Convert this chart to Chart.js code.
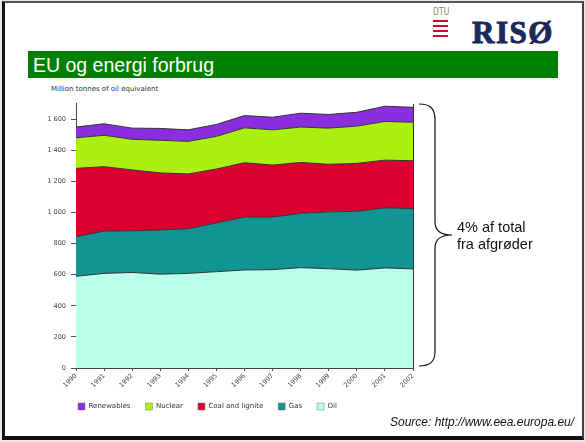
<!DOCTYPE html>
<html>
<head>
<meta charset="utf-8">
<script src="https://cdn.jsdelivr.net/npm/chart.js@4"></script>
<style>
  html, body { margin: 0; padding: 0; background: #e8e8e8; }
  body { width: 585px; height: 442px; position: relative; overflow: hidden; font-family: "Liberation Sans", Arial, sans-serif; }
  .slide { position: absolute; left: 2px; top: 1px; width: 577px; height: 433px; background: #fff;
           border-top: 2px solid #555; border-left: 3px solid #111; border-right: 2px solid #444; border-bottom: 4px solid #111; }
  .bar { position: absolute; left: 28px; top: 51px; width: 530px; height: 27px; background: #008000; }
  .bar span { position: absolute; left: 5px; top: 3px; color: #fff; font-size: 19.5px; line-height: 22px; }
  .dtu { position: absolute; left: 433px; top: 5px; color: #888; font: 11px "DejaVu Sans"; transform: scaleX(0.7); transform-origin: left top; }
  .dtu-bar { position: absolute; left: 433px; width: 15px; height: 2px; background: #c8102e; }
  .riso { position: absolute; left: 472px; top: 15px; color: #1b2a5a; font: bold 31px "Liberation Serif", serif; letter-spacing: 1.5px;
          -webkit-text-stroke: 1px #1b2a5a; }
  .ytitle { position: absolute; left: 51px; top: 85px; font: 7px "DejaVu Sans"; color: #333; }
  .note { position: absolute; left: 457px; top: 219px; font-size: 14.5px; line-height: 16.6px; color: #111; }
  .source { position: absolute; left: 390px; top: 415px; font-size: 12px; font-style: italic; color: #111; }
  #wrap { position: absolute; left: 0px; top: 95px; width: 423px; height: 325px; }
  svg { position: absolute; left: 0; top: 0; }
</style>
</head>
<body>
<div class="slide"></div>
<div class="dtu">DTU</div>
<div class="dtu-bar" style="top:20px"></div>
<div class="dtu-bar" style="top:25px"></div>
<div class="dtu-bar" style="top:30px"></div>
<div class="dtu-bar" style="top:35px"></div>
<div class="riso">RISØ</div>
<div class="bar"><span>EU og energi forbrug</span></div>
<div class="ytitle">Million tonnes of oil equivalent</div>
<div id="wrap"><canvas id="chart"></canvas></div>
<svg width="585" height="442">
  <path d="M419,104 C430,104 435,108 435,120 L435,222 C435,230 440,235 452,235 C440,235 435,240 435,248 L435,352 C435,362 430,366 419,366"
        fill="none" stroke="#111" stroke-width="1.2"/>
</svg>
<div class="note">4% af total<br>fra afgrøder</div>
<div class="source">Source: http://www.eea.europa.eu/</div>

<script>
const years = ['1990', '1991', '1992', '1993', '1994', '1995', '1996', '1997', '1998', '1999', '2000', '2001', '2002'];
const oil = [590, 609, 615, 604, 609, 620, 631, 633, 646, 639, 630, 644, 638];
const gas = [255, 272, 268, 284, 287, 314, 340, 338, 350, 366, 379, 386, 388];
const coal = [440, 415, 392, 368, 353, 347, 350, 335, 327, 306, 308, 308, 308];
const nuclear = [197, 202, 197, 210, 210, 210, 225, 227, 228, 233, 240, 249, 248];
const renewables = [69, 74, 72, 76, 74, 77, 79, 81, 89, 88, 89, 98, 96];
const yTicks = [0, 200, 400, 600, 800, 1000, 1200, 1400, 1600];

function serie(label, data, color, fill) {
    return {
        label: label,
        data: data,
        backgroundColor: color,
        borderColor: '#333',
        borderWidth: 1,
        pointRadius: 0,
        tension: 0,
        fill: fill
    };
}

new Chart(document.getElementById('chart'), {
    type: 'line',
    data: {
        labels: years,
        datasets: [
            serie('Oil', oil, '#b9ffea', 'origin'),
            serie('Gas', gas, '#129494', '-1'),
            serie('Coal and lignite', coal, '#dc0030', '-1'),
            serie('Nuclear', nuclear, '#adef12', '-1'),
            serie('Renewables', renewables, '#8a2ee0', '-1')
        ]
    },
    options: {
        responsive: true,
        maintainAspectRatio: false,
        animation: false,
        layout: { padding: { left: 2, top: 7, right: 10, bottom: 0 } },
        plugins: {
            tooltip: { enabled: false },
            legend: {
                position: 'bottom',
                align: 'center',
                reverse: true,
                labels: {
                    boxWidth: 7,
                    boxHeight: 7,
                    padding: 15,
                    color: '#333',
                    font: { family: 'DejaVu Sans', size: 7 },
                    generateLabels: function (chart) {
                        const items = Chart.defaults.plugins.legend.labels.generateLabels(chart);
                        items.forEach(it => { it.strokeStyle = '#777'; it.lineWidth = 0.5; });
                        return items;
                    }
                }
            }
        },
        scales: {
            x: {
                offset: false,
                afterFit: (s) => { s.height = 20; },
                grid: {
                    color: (c) => c.index === years.length - 1 ? '#333' : 'rgba(0,0,0,0)',
                    tickColor: '#555',
                    tickLength: 3
                },
                border: { color: '#444' },
                ticks: {
                    minRotation: 45,
                    maxRotation: 45,
                    padding: 1,
                    color: '#444',
                    font: { family: 'DejaVu Sans', size: 6.5 }
                }
            },
            y: {
                stacked: true,
                min: 0,
                max: 1700,
                afterFit: (s) => { s.width = 74; },
                afterBuildTicks: (s) => { s.ticks = yTicks.map(v => ({ value: v })); },
                grid: { drawOnChartArea: false, tickColor: '#555', tickLength: 5 },
                border: { color: '#444' },
                ticks: {
                    padding: 5,
                    color: '#444',
                    font: { family: 'DejaVu Sans', size: 6.5 },
                    callback: (v) => String(v).replace(/\B(?=(\d{3})+$)/g, ' ')
                }
            }
        }
    }
});
</script>
</body>
</html>
